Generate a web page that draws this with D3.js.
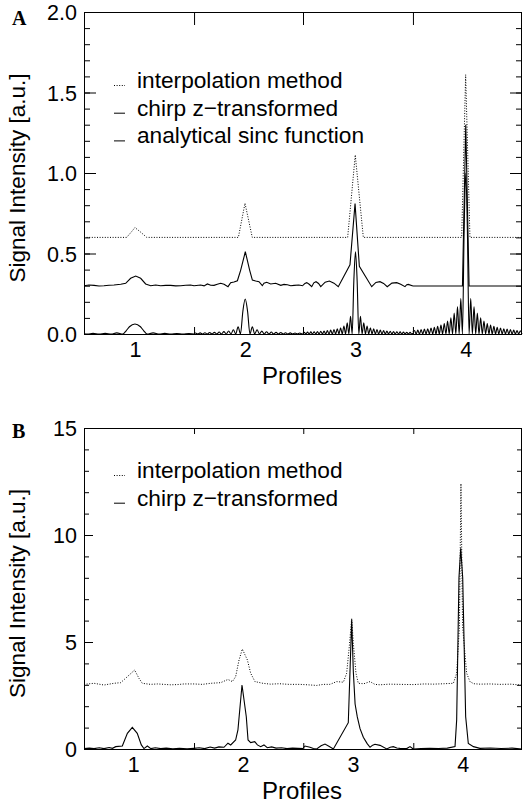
<!DOCTYPE html>
<html>
<head>
<meta charset="utf-8">
<script src="https://cdn.jsdelivr.net/npm/d3@7"></script>
<style>
  body { margin: 0; background: #fff; }
  svg { display: block; }
  text { fill: #000; }
</style>
</head>
<body>
<div id="chart-area"></div>
<script>
// ---- data ----
var profileLabels = [1, 2, 3, 4];

// panel A: tick values
var yTicksA = [0, 0.5, 1.0, 1.5, 2.0];
var yMinorA = d3.range(0, 2.01, 0.1);
var boundsA = [1.536, 2.524, 3.521];

// panel B: tick values
var yTicksB = [0, 5, 10, 15];
var yMinorB = d3.range(0, 15.01, 1);
var boundsB = [1.553, 2.548, 3.55];

// A - interpolation method (offset 0.6)
var interpA = [[0.538,0.6],[0.925,0.6],[0.97,0.636],[1.0,0.661],[1.046,0.636],[1.107,0.6],
  [1.938,0.6],[1.998,0.812],[2.064,0.6],[2.929,0.6],[2.998,1.112],[3.071,0.6],
  [3.963,0.6],[3.999,1.61],[4.038,0.6],[4.51,0.6]];

// A - chirp z-transformed (offset 0.3)
var chirpA1 = [[0.538,0.300],[0.583,0.304],[0.629,0.302],[0.674,0.298],[0.719,0.300],[0.765,0.303],
  [0.81,0.304],[0.871,0.309],[0.916,0.315],[0.961,0.346],[1.007,0.360],[1.052,0.346],[1.097,0.311],
  [1.143,0.300],[1.188,0.304],[1.233,0.300],[1.279,0.302],[1.324,0.302],[1.37,0.299],[1.415,0.300],
  [1.46,0.303],[1.505,0.304],[1.536,0.300]];
var chirpA2 = [[1.536,0.300],[1.596,0.304],[1.627,0.299],[1.657,0.311],[1.687,0.303],[1.717,0.302],
  [1.747,0.309],[1.777,0.315],[1.808,0.309],[1.844,0.294],[1.868,0.319],[1.898,0.323],[1.929,0.331],
  [1.959,0.397],[2.001,0.511],[2.04,0.397],[2.065,0.335],[2.095,0.329],[2.125,0.325],[2.155,0.300],
  [2.17,0.315],[2.195,0.321],[2.231,0.311],[2.276,0.315],[2.322,0.302],[2.352,0.308],[2.382,0.306],
  [2.413,0.300],[2.443,0.302],[2.485,0.304],[2.524,0.300]];
var chirpA3 = [[2.524,0.302],[2.541,0.314],[2.558,0.319],[2.58,0.309],[2.603,0.294],[2.622,0.318],
  [2.642,0.325],[2.665,0.314],[2.685,0.294],[2.725,0.322],[2.763,0.329],[2.805,0.316],[2.844,0.294],
  [2.950,0.430],[2.996,0.810],[3.035,0.420],[3.147,0.294],[3.185,0.320],[3.222,0.325],[3.255,0.314],
  [3.288,0.294],[3.33,0.316],[3.374,0.319],[3.41,0.309],[3.449,0.294],[3.465,0.306],[3.479,0.308],
  [3.521,0.298]];
var chirpA4 = [[3.521,0.298],[3.97,0.298],[4.0,1.30],[4.03,0.298],[4.51,0.298]];

// A - analytical sinc function (offset 0)
var sincA1 = [[0.538,0.002],[0.57,0],[0.62,0.004],[0.675,0],[0.73,0.004],[0.785,0],[0.835,0.007],
  [0.89,0],[0.92,0.02],[0.95,0.045],[1.0,0.062],[1.05,0.045],[1.08,0.02],[1.11,0],[1.165,0.007],
  [1.22,0],[1.27,0.004],[1.325,0],[1.38,0.003],[1.435,0],[1.49,0.003],[1.536,0]];
var sincA2 = [[1.536,0.004],[1.5485,0.006],[1.570,0],[1.5915,0.007],[1.613,0],[1.6345,0.008],[1.656,0],
  [1.6775,0.009],[1.699,0],[1.7205,0.010],[1.742,0],[1.7635,0.012],[1.785,0],[1.8065,0.015],[1.828,0],
  [1.8495,0.019],[1.871,0],[1.8925,0.026],[1.914,0],[1.9355,0.045],[1.957,0],[1.9785,0.14],[2.0,0.217],
  [2.0215,0.14],[2.043,0],[2.0645,0.045],[2.086,0],[2.1075,0.026],[2.129,0],[2.1505,0.018],[2.172,0],
  [2.1935,0.014],[2.215,0],[2.2365,0.012],[2.258,0],[2.2795,0.010],[2.301,0],[2.3225,0.009],[2.344,0],
  [2.3655,0.008],[2.387,0],[2.4085,0.007],[2.430,0],[2.4515,0.006],[2.473,0],[2.4945,0.006],[2.516,0],
  [2.524,0.002]];
var sincA3 = [[2.524,0.004],[2.535,0.011],[2.55,0],[2.565,0.012],[2.58,0],[2.595,0.013],[2.61,0],
  [2.625,0.014],[2.64,0],[2.655,0.015],[2.67,0],[2.685,0.017],[2.70,0],[2.715,0.019],[2.73,0],
  [2.745,0.021],[2.76,0],[2.775,0.024],[2.79,0],[2.805,0.027],[2.82,0],[2.835,0.032],[2.85,0],
  [2.865,0.038],[2.88,0],[2.895,0.05],[2.91,0],[2.925,0.07],[2.94,0],[2.955,0.11],[2.97,0],
  [2.985,0.33],[3.0,0.51],[3.015,0.33],[3.03,0],[3.045,0.11],[3.06,0],[3.075,0.07],[3.09,0],
  [3.105,0.05],[3.12,0],[3.135,0.038],[3.15,0],[3.165,0.032],[3.18,0],[3.195,0.027],[3.21,0],
  [3.225,0.024],[3.24,0],[3.255,0.021],[3.27,0],[3.285,0.019],[3.30,0],[3.315,0.017],[3.33,0],
  [3.345,0.015],[3.36,0],[3.375,0.014],[3.39,0],[3.405,0.013],[3.42,0],[3.435,0.012],[3.45,0],
  [3.465,0.011],[3.48,0],[3.495,0.010],[3.51,0],[3.521,0.005]];
var sincA4 = [[3.521,0.012],[3.535,0.022],[3.55,0],[3.565,0.024],[3.58,0],[3.595,0.027],[3.61,0],
  [3.625,0.03],[3.64,0],[3.655,0.033],[3.67,0],[3.685,0.037],[3.70,0],[3.715,0.042],[3.73,0],
  [3.745,0.048],[3.76,0],[3.775,0.055],[3.79,0],[3.805,0.065],[3.82,0],[3.835,0.08],[3.85,0],
  [3.865,0.10],[3.88,0],[3.895,0.13],[3.91,0],[3.925,0.17],[3.94,0],[3.955,0.22],[3.97,0],
  [3.985,0.64],[4.0,1.0],[4.015,0.64],[4.03,0],[4.045,0.22],[4.06,0],[4.075,0.17],[4.09,0],
  [4.105,0.13],[4.12,0],[4.135,0.10],[4.15,0],[4.165,0.08],[4.18,0],[4.195,0.065],[4.21,0],
  [4.225,0.055],[4.24,0],[4.255,0.048],[4.27,0],[4.285,0.042],[4.30,0],[4.315,0.037],[4.33,0],
  [4.345,0.033],[4.36,0],[4.375,0.03],[4.39,0],[4.405,0.027],[4.42,0],[4.435,0.024],[4.45,0],
  [4.465,0.022],[4.48,0],[4.495,0.02],[4.51,0]];

// B - interpolation method (offset 3)
var interpB = [[0.551,3.02],[0.642,3.07],[0.733,2.99],[0.824,3.07],[0.885,3.10],[0.946,3.38],
  [1.012,3.69],[1.052,3.30],[1.082,3.07],[1.158,3.02],[1.22,3.04],[1.28,3.02],[1.34,3.00],[1.401,3.01],
  [1.462,3.04],[1.553,3.04],[1.63,3.02],[1.705,3.07],[1.796,3.10],[1.862,3.25],[1.902,3.15],[1.932,3.38],
  [1.963,4.16],[1.993,4.67],[2.039,4.16],[2.069,3.54],[2.108,3.15],[2.18,3.07],[2.25,3.03],[2.33,3.05],
  [2.42,3.02],[2.518,3.02],[2.59,3.00],[2.67,2.97],[2.73,3.02],[2.791,3.02],[2.852,3.15],[2.913,3.12],
  [2.943,3.54],[2.967,4.78],[2.989,6.11],[3.004,4.94],[3.028,3.54],[3.049,3.07],[3.10,3.05],[3.156,3.15],
  [3.20,3.02],[3.247,3.00],[3.33,3.03],[3.429,3.02],[3.55,3.01],[3.65,3.04],[3.732,3.03],[3.83,3.05],
  [3.915,3.07],[3.945,3.54],[3.97,5.72],[3.984,12.4],[3.999,5.72],[4.036,3.54],[4.066,3.15],[4.10,3.05],
  [4.157,3.03],[4.25,3.04],[4.34,3.02],[4.44,3.03],[4.54,2.98]];

// B - chirp z-transformed
var chirpB1 = [[0.551,0.02],[0.6,0.04],[0.642,0.02],[0.69,0.06],[0.733,0.02],[0.78,0.07],[0.81,0.03],
  [0.84,0.11],[0.90,0.14],[0.946,0.73],[0.991,1.01],[1.036,0.73],[1.073,0.19],[1.097,0.02],[1.128,0.14],
  [1.16,0.02],[1.20,0.06],[1.25,0.02],[1.30,0.04],[1.36,0.01],[1.42,0.03],[1.49,0.01],[1.553,0.03]];
var chirpB2 = [[1.553,0.03],[1.60,0.06],[1.65,0.02],[1.70,0.09],[1.74,0.04],[1.78,0.10],[1.826,0.08],
  [1.862,0.27],[1.887,0.19],[1.932,0.42],[1.953,0.89],[1.99,2.99],[2.029,1.51],[2.045,0.42],[2.069,0.30],
  [2.106,0.34],[2.13,0.19],[2.16,0.11],[2.19,0.19],[2.22,0.06],[2.26,0.10],[2.30,0.04],[2.35,0.06],
  [2.40,0.02],[2.45,0.04],[2.548,0.02]];
var chirpB3 = [[2.548,0.05],[2.564,0.14],[2.609,0.08],[2.64,0.02],[2.67,0.0],[2.71,0.15],[2.746,0.23],
  [2.785,0.12],[2.822,0.0],[2.958,1.23],[2.989,6.03],[3.004,3.6],[3.02,2.1],[3.04,1.5],[3.065,0.95],
  [3.095,0.55],[3.13,0.25],[3.156,0.08],[3.18,0.18],[3.201,0.22],[3.247,0.17],[3.308,0.0],[3.34,0.08],
  [3.368,0.11],[3.40,0.05],[3.429,0.03],[3.49,0.02],[3.52,0.11],[3.55,0.0]];
var chirpB4 = [[3.55,0.0],[3.62,0.02],[3.70,0.03],[3.78,0.02],[3.86,0.04],[3.93,0.11],[3.945,1.36],
  [3.966,8.0],[3.982,9.38],[4.0,8.0],[4.027,1.51],[4.051,0.26],[4.098,0.11],[4.157,0.03],[4.25,0.05],
  [4.35,0.02],[4.45,0.04],[4.54,0.0]];

var W = 523, H = 808;
var sans = "'Liberation Sans', Arial, Helvetica, sans-serif";
var serif = "'Liberation Serif', 'Times New Roman', serif";

var svg = d3.select("#chart-area")
  .append("svg")
    .attr("width", W)
    .attr("height", H)
    .style("font-family", sans);

function drawPanel(p) {
  var g = svg.append("g");

  var x = d3.scaleLinear().domain(p.xDomain).range([p.left, p.right]);
  var y = d3.scaleLinear().domain(p.yDomain).range([p.bottom, p.top]);

  // Minor y ticks, both sides
  var yMinorL = g.append("g").attr("transform", "translate(" + p.left + ",0)")
    .call(d3.axisLeft(y).tickValues(p.yMinor).tickSize(-p.minorLen).tickFormat(""));
  var yMinorR = g.append("g").attr("transform", "translate(" + p.right + ",0)")
    .call(d3.axisRight(y).tickValues(p.yMinor).tickSize(-p.minorLen).tickFormat(""));

  // Major y ticks + labels
  var yAxisL = g.append("g").attr("transform", "translate(" + p.left + ",0)")
    .call(d3.axisLeft(y).tickValues(p.yTicks).tickSize(-p.majorLen).tickPadding(7)
      .tickFormat(p.yFormat));
  var yAxisR = g.append("g").attr("transform", "translate(" + p.right + ",0)")
    .call(d3.axisRight(y).tickValues(p.yTicks).tickSize(-p.majorLen).tickFormat(""));

  // Boundary ticks top and bottom
  var xTop = g.append("g").attr("transform", "translate(0," + p.top + ")")
    .call(d3.axisTop(x).tickValues(p.bounds).tickSize(-p.topLen).tickFormat(""));
  var xBot = g.append("g").attr("transform", "translate(0," + p.bottom + ")")
    .call(d3.axisBottom(x).tickValues(p.bounds).tickSize(-p.botLen).tickFormat(""));

  // Profile labels
  var xLab = g.append("g").attr("transform", "translate(0," + p.bottom + ")")
    .call(d3.axisBottom(x).tickValues(profileLabels).tickSize(0).tickFormat(d3.format("d")));

  [yMinorL, yMinorR, yAxisL, yAxisR, xTop, xBot, xLab].forEach(function(a) {
    a.select(".domain").remove();
    a.selectAll("line").attr("stroke", "#000").attr("stroke-width", 1);
    a.attr("font-family", null).attr("font-size", null);
  });
  yAxisL.selectAll("text").attr("font-size", "21.5px").attr("dy", "0.36em");
  xLab.selectAll("text").attr("font-size", "21.5px").attr("dy", null).attr("y", 23);

  // Frame
  g.append("rect")
    .attr("x", p.left + 0.5).attr("y", p.top + 0.5)
    .attr("width", p.right - p.left - 1).attr("height", p.bottom - p.top)
    .attr("fill", "none").attr("stroke", "#000").attr("stroke-width", 1);

  var line = d3.line().x(function(d) { return x(d[0]); }).y(function(d) { return y(d[1]); });
  var smooth = d3.line().curve(d3.curveMonotoneX)
    .x(function(d) { return x(d[0]); }).y(function(d) { return y(d[1]); });

  p.series.forEach(function(s) {
    g.append("path")
      .attr("d", (s.smooth ? smooth : line)(s.data))
      .attr("fill", "none")
      .attr("stroke", "#000")
      .attr("stroke-width", s.dotted ? 1 : 1.1)
      .attr("stroke-dasharray", s.dotted ? "1,1.6" : null);
  });

  // X Label
  g.append("text")
    .attr("x", (p.left + p.right) / 2 - 1)
    .attr("y", p.bottom + 50)
    .attr("font-size", "24px")
    .attr("text-anchor", "middle")
    .text("Profiles");

  // Y Label
  g.append("text")
    .attr("transform", "translate(25," + ((p.top + p.bottom) / 2 + 5) + ") rotate(-90)")
    .attr("font-size", "22.5px")
    .attr("text-anchor", "middle")
    .text("Signal Intensity [a.u.]");

  // Panel letter
  g.append("text")
    .attr("x", 12).attr("y", p.letterY)
    .style("font-family", serif)
    .attr("font-weight", "bold")
    .attr("font-size", "20px")
    .text(p.letter);

  // Legend
  p.legend.forEach(function(l, i) {
    var by = p.legendY + i * 27.7;
    g.append("line")
      .attr("x1", 114).attr("x2", 125)
      .attr("y1", by - 2.5).attr("y2", by - 2.5)
      .attr("stroke", "#000").attr("stroke-width", 1)
      .attr("stroke-dasharray", l.dotted ? "1,1.6" : null);
    g.append("text")
      .attr("x", 137).attr("y", by)
      .attr("font-size", "22.7px")
      .text(l.label);
  });
}

drawPanel({
  letter: "A", letterY: 25,
  left: 84, right: 522, top: 12, bottom: 334,
  xDomain: [0.538, 4.51], yDomain: [0, 2],
  yTicks: yTicksA, yMinor: yMinorA, yFormat: d3.format(".1f"),
  bounds: boundsA, majorLen: 12, minorLen: 6, topLen: 13, botLen: 7,
  legendY: 88,
  legend: [
    { label: "interpolation method", dotted: true },
    { label: "chirp z\u2212transformed" },
    { label: "analytical sinc function" }
  ],
  series: [
    { data: interpA, dotted: true },
    { data: chirpA1 }, { data: chirpA2 }, { data: chirpA3 }, { data: chirpA4 },
    { data: sincA1, smooth: true }, { data: sincA2, smooth: true },
    { data: sincA3, smooth: true }, { data: sincA4, smooth: true }
  ]
});

drawPanel({
  letter: "B", letterY: 438,
  left: 84, right: 522, top: 428, bottom: 749,
  xDomain: [0.551, 4.54], yDomain: [0, 15],
  yTicks: yTicksB, yMinor: yMinorB, yFormat: d3.format("d"),
  bounds: boundsB, majorLen: 9, minorLen: 5, topLen: 6, botLen: 6,
  legendY: 478,
  legend: [
    { label: "interpolation method", dotted: true },
    { label: "chirp z\u2212transformed" }
  ],
  series: [
    { data: interpB, dotted: true },
    { data: chirpB1 }, { data: chirpB2 }, { data: chirpB3 }, { data: chirpB4 }
  ]
});
</script>
</body>
</html>
